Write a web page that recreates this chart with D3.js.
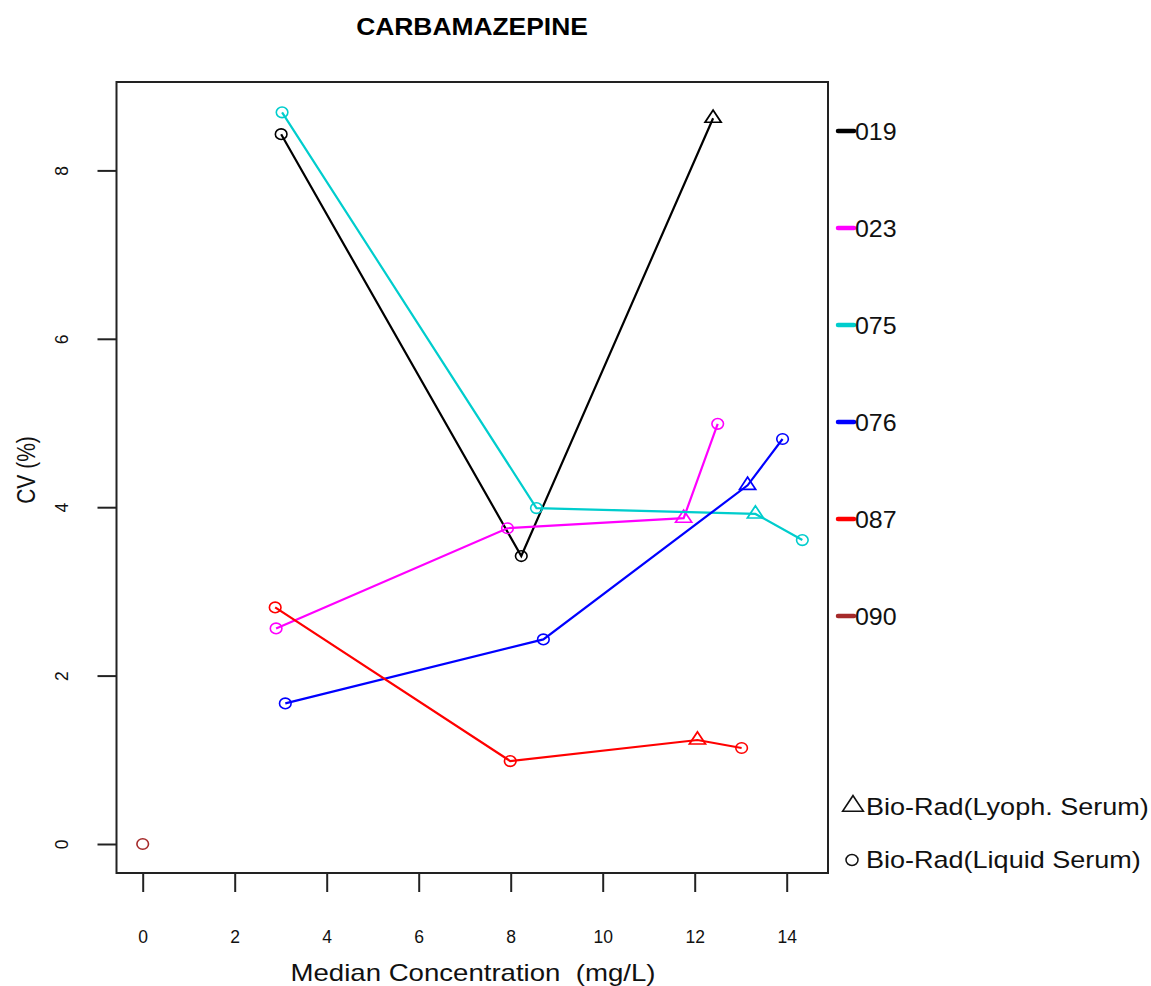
<!DOCTYPE html>
<html>
<head>
<meta charset="utf-8">
<script src="https://cdn.jsdelivr.net/npm/d3@7"></script>
<style>
  body { margin: 0; background: #fff; }
  svg { font-family: "Liberation Sans", Arial, sans-serif; }
</style>
</head>
<body>
<svg id="chart" width="1151" height="986"></svg>
<script>
// lab ids and their colours
var labIds = ["019", "023", "075", "076", "087", "090"];
var labColors = ["#000000", "#FF00FF", "#00CDCD", "#0000FF", "#FF0000", "#A52A2A"];

// median concentration (mg/L) per lab, one entry per control material
var medianConc = [
  [3.01, 8.23, 12.40],
  [2.90, 7.93, 11.76, 12.50],
  [3.03, 8.56, 13.32, 14.34],
  [3.10, 8.71, 13.15, 13.91],
  [2.88, 7.99, 12.06, 13.02],
  [0]
];
// CV (%) per lab
var cvPercent = [
  [8.43, 3.42, 8.62],
  [2.56, 3.75, 3.87, 4.99],
  [8.69, 3.99, 3.92, 3.61],
  [1.67, 2.43, 4.26, 4.81],
  [2.81, 0.985, 1.235, 1.14],
  [0]
];
// material type: "liquid" = circle, "lyoph" = triangle
var materialType = [
  ["liquid", "liquid", "lyoph"],
  ["liquid", "liquid", "lyoph", "liquid"],
  ["liquid", "liquid", "lyoph", "liquid"],
  ["liquid", "liquid", "lyoph", "liquid"],
  ["liquid", "liquid", "lyoph", "liquid"],
  ["liquid"]
];

var xTicks = [0, 2, 4, 6, 8, 10, 12, 14];
var yTicks = [0, 2, 4, 6, 8];
var materialLabels = ["Bio-Rad(Lyoph. Serum)", "Bio-Rad(Liquid Serum)"];

var svg = d3.select("#chart");

var box = { left: 116.5, top: 82, right: 828, bottom: 873 };

var x = d3.scaleLinear().domain([0, 14]).range([142.7, 786.7]);
var y = d3.scaleLinear().domain([0, 8]).range([844, 170.4]);

// text helper, sx stretches sideways a bit like the source picture
function stretchedText(px, py, size, sx, str, anchor, weight) {
  return svg.append("text")
    .attr("transform", "translate(" + px + "," + py + ") scale(" + sx + ",1)")
    .attr("text-anchor", anchor || "start")
    .attr("font-size", size)
    .attr("font-weight", weight || "normal")
    .attr("fill", "#111")
    .style("white-space", "pre")
    .text(str);
}

// title
stretchedText(472, 35, 24, 1.1, "CARBAMAZEPINE", "middle", "bold").attr("fill", "#000");

// x axis
var xAxis = svg.append("g")
  .attr("transform", "translate(0," + box.bottom + ")")
  .call(d3.axisBottom(x).tickValues(xTicks).tickSize(19).tickPadding(38.5).tickFormat(d3.format("d")));
xAxis.attr("font-family", null);
xAxis.select(".domain").remove();
xAxis.selectAll(".tick line").attr("stroke", "#222").attr("stroke-width", 2);
xAxis.selectAll(".tick text")
  .attr("fill", "#111")
  .style("font-size", "17.5px");

// y axis
var yAxis = svg.append("g")
  .attr("transform", "translate(" + box.left + ",0)")
  .call(d3.axisLeft(y).tickValues(yTicks).tickSize(19).tickPadding(0).tickFormat(d3.format("d")));
yAxis.attr("font-family", null);
yAxis.select(".domain").remove();
yAxis.selectAll(".tick line").attr("stroke", "#222").attr("stroke-width", 2);
yAxis.selectAll(".tick text")
  .attr("x", 0).attr("dy", 0)
  .attr("transform", "translate(-53,0) rotate(-90)")
  .attr("text-anchor", "middle")
  .attr("dominant-baseline", "middle")
  .attr("fill", "#111")
  .style("font-size", "17.5px");

// frame
svg.append("rect")
  .attr("x", box.left).attr("y", box.top)
  .attr("width", box.right - box.left).attr("height", box.bottom - box.top)
  .attr("fill", "none").attr("stroke", "#222").attr("stroke-width", 2);

// axis titles
stretchedText(473, 981, 23, 1.2, "Median Concentration  (mg/L)", "middle");

svg.append("text")
  .attr("transform", "translate(35,470) scale(1.2,1) rotate(-90)")
  .attr("text-anchor", "middle")
  .attr("font-size", 21)
  .attr("fill", "#111")
  .text("CV (%)");

var line = d3.line()
  .x(function(d) { return x(d.conc); })
  .y(function(d) { return y(d.cv); });

var triangle = d3.symbol().type(d3.symbolTriangle).size(85);

labIds.forEach(function(lab, i) {
  var pts = medianConc[i].map(function(c, j) {
    return { conc: c, cv: cvPercent[i][j], type: materialType[i][j] };
  });
  pts.sort(function(a, b) { return a.conc - b.conc; });

  var g = svg.append("g").attr("class", "lab-" + lab);

  if (pts.length > 1) {
    g.append("path")
      .datum(pts)
      .attr("d", line)
      .attr("fill", "none")
      .attr("stroke", labColors[i])
      .attr("stroke-width", 2.2);
  }

  g.selectAll("ellipse")
    .data(pts.filter(function(d) { return d.type == "liquid"; }))
    .enter().append("ellipse")
    .attr("cx", function(d) { return x(d.conc); })
    .attr("cy", function(d) { return y(d.cv); })
    .attr("rx", 5.8)
    .attr("ry", 5.3)
    .attr("fill", "none")
    .attr("stroke", labColors[i])
    .attr("stroke-width", 1.6);

  g.selectAll("path.tri")
    .data(pts.filter(function(d) { return d.type == "lyoph"; }))
    .enter().append("path")
    .attr("class", "tri")
    .attr("d", triangle)
    .attr("transform", function(d) {
      return "translate(" + x(d.conc) + "," + y(d.cv) + ") scale(1.15,1)";
    })
    .attr("fill", "none")
    .attr("stroke", labColors[i])
    .attr("stroke-width", 1.6);
});

// legend for labs
var legend = svg.append("g");
labIds.forEach(function(lab, i) {
  var ly = 131 + i * 97;
  legend.append("line")
    .attr("x1", 838).attr("x2", 854)
    .attr("y1", ly).attr("y2", ly)
    .attr("stroke", labColors[i])
    .attr("stroke-width", 4.5)
    .attr("stroke-linecap", "round");
  stretchedText(855, ly + 8.5, 24, 1.04, lab);
});

// legend for material types
var matY = [815, 868];
legend.append("path")
  .attr("d", d3.symbol().type(d3.symbolTriangle).size(140))
  .attr("transform", "translate(853,806) scale(1.15,1)")
  .attr("fill", "none").attr("stroke", "#111").attr("stroke-width", 1.5);
legend.append("ellipse")
  .attr("cx", 852).attr("cy", 860)
  .attr("rx", 6).attr("ry", 5.5)
  .attr("fill", "none").attr("stroke", "#111").attr("stroke-width", 1.5);
materialLabels.forEach(function(t, i) {
  stretchedText(866, matY[i], 23.5, 1.15, t);
});
</script>
</body>
</html>
